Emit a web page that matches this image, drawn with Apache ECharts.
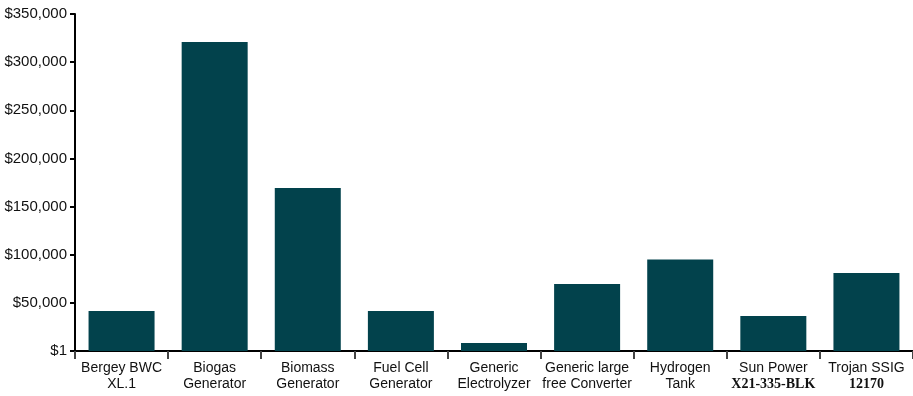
<!DOCTYPE html>
<html><head><meta charset="utf-8">
<script src="https://cdn.jsdelivr.net/npm/echarts@6/dist/echarts.min.js"></script>
<style>html,body{margin:0;padding:0;background:#fff}#c{width:913px;height:396px}</style>
</head><body><div id="c"></div>
<script>
const categories = [
  'Bergey BWC\nXL.1', 'Biogas\nGenerator', 'Biomass\nGenerator', 'Fuel Cell\nGenerator',
  'Generic\nElectrolyzer', 'Generic large\nfree Converter', 'Hydrogen\nTank',
  'Sun Power\n{b|X21-335-BLK}', 'Trojan SSIG\n{b|12170}'
];
const costs = [41500, 321000, 169300, 41500, 8300, 69600, 95000, 36400, 81000];
const yMin = 0, yMax = 350000, yInterval = 50000;

const chart = echarts.init(document.getElementById('c'));
chart.setOption({
  animation: false,
  grid: { left: 75, top: 14, width: 842, height: 337, containLabel: false },
  xAxis: {
    type: 'category', data: categories,
    axisLine: { lineStyle: { color: '#000', width: 2 } },
    axisTick: { show: true, length: 8, lineStyle: { color: '#444', width: 2 } },
    axisLabel: {
      interval: 0, margin: 9, fontFamily: 'Liberation Sans, Arial, sans-serif',
      fontSize: 14, lineHeight: 16, color: '#111',
      rich: { b: { fontFamily: 'Liberation Serif, Times New Roman, serif', fontWeight: 'bold', fontSize: 14, lineHeight: 16, color: '#111' } }
    }
  },
  yAxis: {
    type: 'value', min: yMin, max: yMax, interval: yInterval,
    splitLine: { show: false },
    axisLine: { show: true, lineStyle: { color: '#000', width: 2 } },
    axisTick: { show: true, length: 5, lineStyle: { color: '#000', width: 2 } },
    axisLabel: {
      margin: 8, fontFamily: 'Liberation Sans, Arial, sans-serif', fontSize: 15, color: '#111',
      formatter: v => v === 0 ? '$1' : '$' + v.toLocaleString('en-US')
    }
  },
  series: [{
    type: 'bar', data: costs, barWidth: 66,
    itemStyle: { color: '#02424c' }
  }]
});
</script></body></html>
